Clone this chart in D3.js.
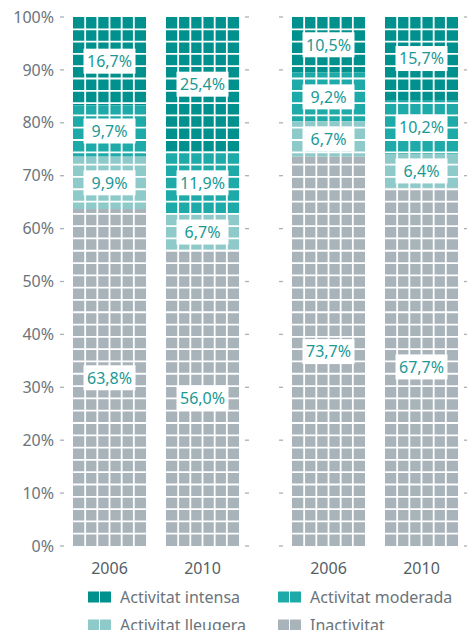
<!DOCTYPE html>
<html>
<head>
<meta charset="utf-8">
<script src="https://cdn.jsdelivr.net/npm/d3@7"></script>
<style>
  body { margin: 0; background: #fff; }
  text { font-family: "Noto Sans", "Open Sans", sans-serif; }
</style>
</head>
<body>
<div id="chart"></div>
<script>
const width = 467
const height = 630

// dades
const groups = ['A', 'B']
const years = ['2006', '2010']
const series = ['Activitat intensa', 'Activitat moderada', 'Activitat lleugera', 'Inactivitat']
const colors = ['#00908d', '#1eaaa8', '#8ecaca', '#a8b3ba']
const intensa = [16.7, 25.4, 10.5, 15.7]
const moderada = [9.7, 11.9, 9.2, 10.2]
const lleugera = [9.9, 6.7, 6.7, 6.4]
const inactivitat = [63.8, 56.0, 73.7, 67.7]
const yTicks = [0, 10, 20, 30, 40, 50, 60, 70, 80, 90, 100]

const values = [intensa, moderada, lleugera, inactivitat]
const fmt = v => d3.format('.1f')(v).replace('.', ',') + '%'

const svg = d3.select('#chart').append('svg').attr('width', width).attr('height', height)

const y = d3.scaleLinear().domain([0, 100]).range([546, 17])
const xGroup = d3.scaleBand().domain(groups).range([62, 466]).paddingInner(34 / 219)
const xYear = d3.scaleBand().domain(years).range([0, xGroup.bandwidth()])
    .paddingInner(20 / 93).paddingOuter(19 / 2 / 93).align(11 / 19)

// eix y
const yAxisGroup = svg.append('g').attr('transform', 'translate(62,0)')
yAxisGroup.call(d3.axisLeft(y).tickValues(yTicks).tickFormat(d => d + '%').tickSize(0).tickPadding(8))
yAxisGroup.select('.domain').remove()
yAxisGroup.selectAll('text').attr('fill', '#6b747b').style('font-size', '16px')
    .attr('font-family', '"Noto Sans", sans-serif')

// petites marques a les vores de cada grup
const tickGroup = svg.append('g')
groups.forEach(g => {
    const x0 = xGroup(g), x1 = x0 + xGroup.bandwidth()
    ;[x0, x1].forEach(xx => {
        tickGroup.selectAll(null).data(yTicks).enter().append('line')
            .attr('x1', xx - 2).attr('x2', xx + 2)
            .attr('y1', d => y(d)).attr('y2', d => y(d))
            .attr('stroke', '#a9b1b7').attr('stroke-width', 1.3)
    })
})

// construir barres
const bars = []
groups.forEach((g, gi) => {
    years.forEach((yr, yi) => {
        const i = gi * 2 + yi
        let top = 100
        const segs = values.map((arr, si) => {
            const s = { serie: si, value: arr[i], y0: top, y1: top - arr[i] }
            top -= arr[i]
            return s
        })
        bars.push({ x: xGroup(g) + xYear(yr), year: yr, segs })
    })
})

const bw = xYear.bandwidth()
const barG = svg.append('g').selectAll('g').data(bars).enter().append('g')
    .attr('transform', d => `translate(${d.x},0)`)

barG.selectAll('rect.seg').data(d => d.segs).enter().append('rect')
    .attr('class', 'seg')
    .attr('x', 0)
    .attr('width', bw)
    .attr('y', d => y(d.y0))
    .attr('height', d => Math.max(0, y(Math.max(0, d.y1)) - y(d.y0)))
    .attr('fill', d => colors[d.serie])

// quadrícula blanca
const cols = 6
const rows = 43
const rowH = (y(0) - y(100)) / rows
barG.each(function () {
    const g = d3.select(this)
    g.selectAll('line.v').data(d3.range(1, cols)).enter().append('line')
        .attr('x1', k => k * bw / cols).attr('x2', k => k * bw / cols)
        .attr('y1', y(100)).attr('y2', y(0))
        .attr('stroke', '#fff').attr('stroke-width', 1.8)
    g.selectAll('line.h').data(d3.range(1, rows)).enter().append('line')
        .attr('x1', 0).attr('x2', bw)
        .attr('y1', k => y(100) + k * rowH).attr('y2', k => y(100) + k * rowH)
        .attr('stroke', '#fff').attr('stroke-width', 1.8)
})

// etiquetes
const lab = barG.selectAll('g.lab').data(d => d.segs).enter().append('g')
    .attr('transform', d => `translate(${bw / 2},${y((d.y0 + d.y1) / 2)})`)
lab.append('rect').attr('x', -26).attr('y', -12.5).attr('width', 52).attr('height', 25).attr('fill', '#fff')
lab.append('text').attr('text-anchor', 'middle').attr('dy', '0.36em')
    .attr('fill', '#1a9995').style('font-size', '16px')
    .text(d => fmt(d.value))

// anys
barG.append('text').attr('x', bw / 2).attr('y', 568).attr('dy', '0.36em')
    .attr('text-anchor', 'middle').attr('fill', '#555f66').style('font-size', '16px')
    .text(d => d.year)

// llegenda
const legend = svg.append('g').selectAll('g').data(series).enter().append('g')
    .attr('transform', (d, i) => `translate(${i % 2 === 0 ? 88 : 278},${i < 2 ? 597 : 625})`)
legend.selectAll('rect').data((d, i) => [i, i]).enter().append('rect')
    .attr('x', (d, k) => k * 12).attr('y', -5.5).attr('width', 11).attr('height', 11)
    .attr('fill', d => colors[d])
legend.append('text').attr('x', 32).attr('dy', '0.36em')
    .attr('fill', '#6b747b').style('font-size', '16px')
    .text(d => d)
</script>
</body>
</html>
